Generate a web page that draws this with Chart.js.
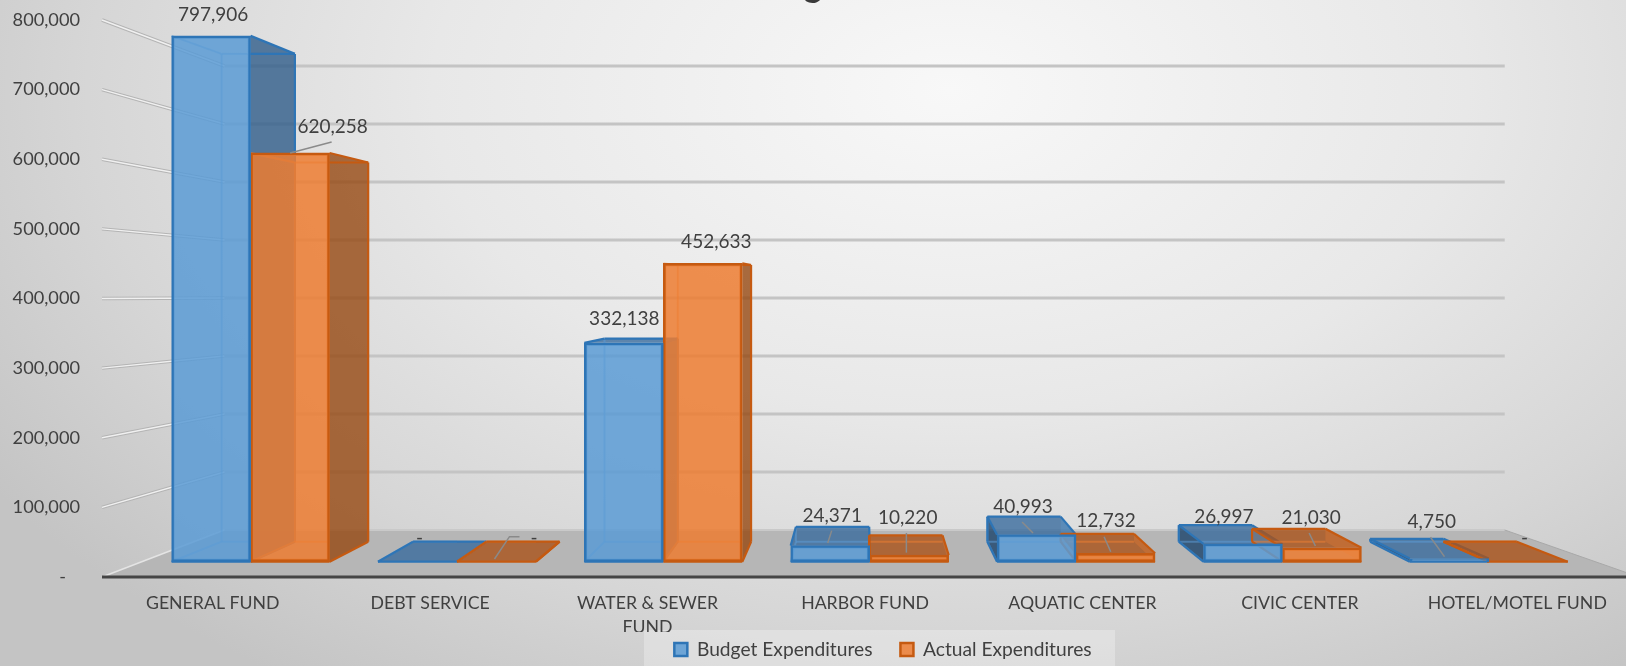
<!DOCTYPE html>
<html lang="en">
<head>
    <meta charset="UTF-8">
    <title>Budget vs Actual Expenditures</title>
    <script src="https://cdn.jsdelivr.net/npm/chart.js"></script>
    <style>
        html, body { margin: 0; padding: 0; width: 1626px; height: 666px; overflow: hidden; }
        body { background: radial-gradient(ellipse 1150px 720px at 950px 90px, #f8f8f8 0%, #e8e8e8 45%, #d6d6d6 75%, #c4c4c4 100%); }
        #wrap { position: relative; width: 1626px; height: 666px; }
    </style>
</head>
<body>
    <div id="wrap"><canvas id="fundChart" width="1626" height="666"></canvas></div>

    <script>
        // Data
        const categories = ['GENERAL FUND', 'DEBT SERVICE', ['WATER & SEWER', 'FUND'], 'HARBOR FUND', 'AQUATIC CENTER', 'CIVIC CENTER', 'HOTEL/MOTEL FUND'];
        const budgetExpenditures = [797906, 0, 332138, 24371, 40993, 26997, 4750];
        const actualExpenditures = [620258, 0, 452633, 10220, 12732, 21030, 0];
        const axisTicks = [0, 100000, 200000, 300000, 400000, 500000, 600000, 700000, 800000];

        // Where each value label sits relative to its bar's front top centre, [dx, dy]
        const budgetLabelOffset = [[2, -21], [2, -24], [0.5, -24], [2, -30], [-13.5, -28], [-19, -26.6], [-17.5, -37]];
        const actualLabelOffset = [[42.5, -26], [37.6, -24], [13.5, -22], [-1.5, -37], [-9.5, -32.6], [-10.8, -30], [-3.8, -24]];
        // Leader lines, as offsets from the same point
        const budgetLeaders = [null, null, null, [[-2.5, -2.6], [1.5, -15]], [[-14.5, -12.7], [-3.5, -1.7]], null, [[-18.8, -21.3], [-4.8, -1.9]]];
        const actualLeaders = [[[41.5, -11], [0, 0]], [[-2, -2.7], [13, -25], [23, -25]], null, [[-2.8, -2.3], [-2.8, -22]], [[-11.5, -16.6], [-4.8, -1.6]], [[-12.8, -14.8], [-6.5, -1.8]], null];

        // Perspective of the 3D look
        const barVP = { x: 863, y: 285 }, barDepth = 0.0723;
        const wallVP = { x: 835, y: 295.5 }, wallDepth = 0.167;

        const styles = [
            { front: 'rgba(91,155,213,0.85)', edge: '#2e75b6', inner: 'rgba(91,155,213,0.55)', near: 'rgba(48,92,138,0.8)', top: 'rgba(57,107,157,0.8)', dark: 'rgba(27,67,107,0.8)', far: 'rgba(91,155,213,0.3)' },
            { front: 'rgba(237,125,49,0.85)', edge: '#c55a11', inner: 'rgba(237,125,49,0.55)', near: 'rgba(150,72,18,0.8)', top: 'rgba(170,82,25,0.8)', dark: 'rgba(170,82,25,0.25)', far: 'rgba(237,125,49,0.3)' }
        ];

        const project = (x, y, vp, d) => [x + d * (vp.x - x), y + d * (vp.y - y)];

        function poly(ctx, pts, fill) {
            ctx.beginPath();
            pts.forEach((p, i) => (i ? ctx.lineTo(p[0], p[1]) : ctx.moveTo(p[0], p[1])));
            ctx.closePath();
            ctx.fillStyle = fill;
            ctx.fill();
        }

        function line(ctx, a, b, color, lw) {
            ctx.beginPath();
            ctx.moveTo(a[0], a[1]);
            ctx.lineTo(b[0], b[1]);
            ctx.strokeStyle = color;
            ctx.lineWidth = lw;
            ctx.stroke();
        }

        function drawExtrusion(ctx, bar, st) {
            const l = bar.x - bar.width / 2, r = bar.x + bar.width / 2, top = bar.y, bot = bar.base;
            const p = (x, yy) => project(x, yy, barVP, barDepth);
            const tl = p(l, top), tr = p(r, top), bl = p(l, bot), br = p(r, bot);
            const fromAbove = tl[1] < top;

            if (fromAbove) poly(ctx, [[l, top], [r, top], tr, tl], st.top);
            if (r < barVP.x) poly(ctx, [[r, top], tr, br, [r, bot]], st.near);
            if (l > barVP.x) poly(ctx, [[l, top], tl, bl, [l, bot]], st.dark);
            if (r > barVP.x && bot - top > 3) poly(ctx, [[r, top], tr, br, [r, bot]], st.far);

            // inner edges seen through the front
            line(ctx, tl, bl, st.inner, 2);
            line(ctx, bl, [Math.min(r, br[0]), br[1]], st.inner, 2);
            line(ctx, [l, bot], bl, st.inner, 2);

            // outer edges
            if (fromAbove) {
                line(ctx, [l, top], tl, st.edge, 2.2);
                line(ctx, tl, tr, st.edge, 2.2);
            } else {
                line(ctx, [l, top], tl, st.inner, 2);
                line(ctx, tl, [Math.min(r, tr[0]), tr[1]], st.inner, 2);
                if (tr[0] > r) line(ctx, [r, tr[1]], tr, st.edge, 2.2);
            }
            line(ctx, [r, top], tr, st.edge, 2.2);
            if (r < barVP.x) {
                line(ctx, tr, br, st.edge, 2.2);
                line(ctx, br, [r, bot], st.edge, 2.2);
            }
            if (l > barVP.x) {
                line(ctx, tl, bl, st.edge, 2.2);
                line(ctx, bl, [l, bot], st.edge, 2.2);
            }
            line(ctx, [l, bot], [r, bot], st.edge, 2.2);
        }

        // Floor, back wall lines, side wall lines, bar depth, cropped title
        const roomPlugin = {
            id: 'room',
            beforeDatasetsDraw(chart) {
                const ctx = chart.ctx, area = chart.chartArea, y = chart.scales.y;
                const left = area.left - 2, right = area.right + 13, base = y.getPixelForValue(0);
                const backL = project(left, base, wallVP, wallDepth);
                const backR = project(right, base, wallVP, wallDepth);
                ctx.save();

                ctx.font = 'bold 34px Lato';
                ctx.fillStyle = '#3a3a3a';
                ctx.textAlign = 'center';
                ctx.textBaseline = 'alphabetic';
                ctx.fillText('g', 813, -3);

                poly(ctx, [[left, base], [right, base], backR, backL], '#b6b6b6');
                line(ctx, backL, backR, '#c9c9c9', 2);
                line(ctx, backR, [right, base], '#a8a8a8', 1);
                line(ctx, backL, [left, base], '#e4e4e4', 1.5);

                axisTicks.forEach(v => {
                    if (!v) return;
                    const py = y.getPixelForValue(v);
                    const a = project(left, py, wallVP, wallDepth);
                    const b = project(right, py, wallVP, wallDepth);
                    line(ctx, a, b, '#c4c4c4', 3);
                    line(ctx, [left, py], a, '#b4b4b4', 3.5);
                    line(ctx, [left, py], a, '#f0f0f0', 1.5);
                });

                line(ctx, [left, base], [right, base], '#454545', 3);

                chart.getDatasetMeta(0).data.forEach(bar => drawExtrusion(ctx, bar, styles[0]));
                chart.getDatasetMeta(1).data.forEach(bar => drawExtrusion(ctx, bar, styles[1]));
                ctx.restore();
            },
            afterDatasetsDraw(chart) {
                const ctx = chart.ctx;
                const sets = [[budgetExpenditures, budgetLabelOffset, budgetLeaders], [actualExpenditures, actualLabelOffset, actualLeaders]];
                ctx.save();
                ctx.font = '19px Lato';
                ctx.textAlign = 'center';
                ctx.textBaseline = 'middle';
                sets.forEach((set, d) => {
                    chart.getDatasetMeta(d).data.forEach((bar, i) => {
                        const leader = set[2][i];
                        if (leader) {
                            ctx.beginPath();
                            leader.forEach((o, n) => (n ? ctx.lineTo(bar.x + o[0], bar.y + o[1]) : ctx.moveTo(bar.x + o[0], bar.y + o[1])));
                            ctx.strokeStyle = '#8a8a8a';
                            ctx.lineWidth = 1.5;
                            ctx.stroke();
                        }
                        ctx.fillStyle = '#404040';
                        const v = set[0][i];
                        ctx.fillText(v ? v.toLocaleString('en-US') : '-', bar.x + set[1][i][0], bar.y + set[1][i][1]);
                    });
                });
                ctx.restore();
            }
        };

        // Legend sits off centre in the original, on a pale panel
        const legendPadding = 28;
        const legendPanel = {
            id: 'legendPanel',
            afterLayout(chart) {
                chart.legend.left += 68;
                chart.legend.right += 68;
                chart.legend.top -= legendPadding - 8;
            },
            beforeDraw(chart) {
                const ctx = chart.ctx;
                ctx.save();
                ctx.fillStyle = 'rgba(255,255,255,0.28)';
                ctx.fillRect(644, 630, 471, 36);
                ctx.restore();
            }
        };

        new Chart(document.getElementById('fundChart').getContext('2d'), {
            type: 'bar',
            data: {
                labels: categories,
                datasets: [
                    {
                        label: 'Budget Expenditures',
                        data: budgetExpenditures.map((v, i) => ({ x: i, y: v })),
                        xAxisID: 'xBars', yAxisID: 'yBars',
                        backgroundColor: styles[0].front, borderColor: styles[0].edge,
                        borderWidth: 2.5, borderSkipped: false, barThickness: 79
                    },
                    {
                        label: 'Actual Expenditures',
                        data: actualExpenditures.map((v, i) => ({ x: i, y: v })),
                        xAxisID: 'xBars', yAxisID: 'yBars',
                        backgroundColor: styles[1].front, borderColor: styles[1].edge,
                        borderWidth: 2.5, borderSkipped: false, barThickness: 79
                    }
                ]
            },
            options: {
                responsive: false,
                animation: false,
                layout: { autoPadding: false, padding: { top: 20, left: 0, right: -4, bottom: 0 } },
                plugins: {
                    tooltip: { enabled: false },
                    title: { display: false },
                    legend: {
                        position: 'bottom',
                        maxHeight: 34,
                        labels: {
                            color: '#404040',
                            font: { family: 'Lato', size: 19.2 },
                            boxWidth: 13,
                            boxHeight: 13,
                            padding: legendPadding
                        }
                    }
                },
                scales: {
                    x: {
                        type: 'category',
                        offset: true,
                        grid: { display: false },
                        border: { display: false },
                        afterFit: s => { s.height = 55; s.paddingLeft = 0; s.paddingRight = 0; },
                        ticks: {
                            color: '#404040',
                            font: { family: 'Lato', size: 17.7, lineHeight: 1.38 },
                            padding: 6,
                            maxRotation: 0,
                            autoSkip: false
                        }
                    },
                    y: {
                        type: 'linear',
                        min: 0,
                        max: 800000,
                        afterFit: s => { s.width = 104; s.paddingTop = 0; s.paddingBottom = 0; },
                        afterBuildTicks: s => { s.ticks = axisTicks.map(v => ({ value: v })); },
                        grid: { display: false, drawTicks: false },
                        border: { display: false },
                        ticks: {
                            color: '#404040',
                            font: { family: 'Lato', size: 18.2 },
                            padding: 24,
                            callback: v => (v ? v.toLocaleString('en-US') : '-   ')
                        }
                    },
                    // Bars stand a little behind the axis plane, so they get their own smaller scales
                    xBars: { type: 'linear', display: false, offset: false, min: -0.7105, max: 6.665 },
                    yBars: { type: 'linear', display: false, min: -23217, max: 822003 }
                }
            },
            plugins: [roomPlugin, legendPanel]
        });
    </script>
</body>
</html>
